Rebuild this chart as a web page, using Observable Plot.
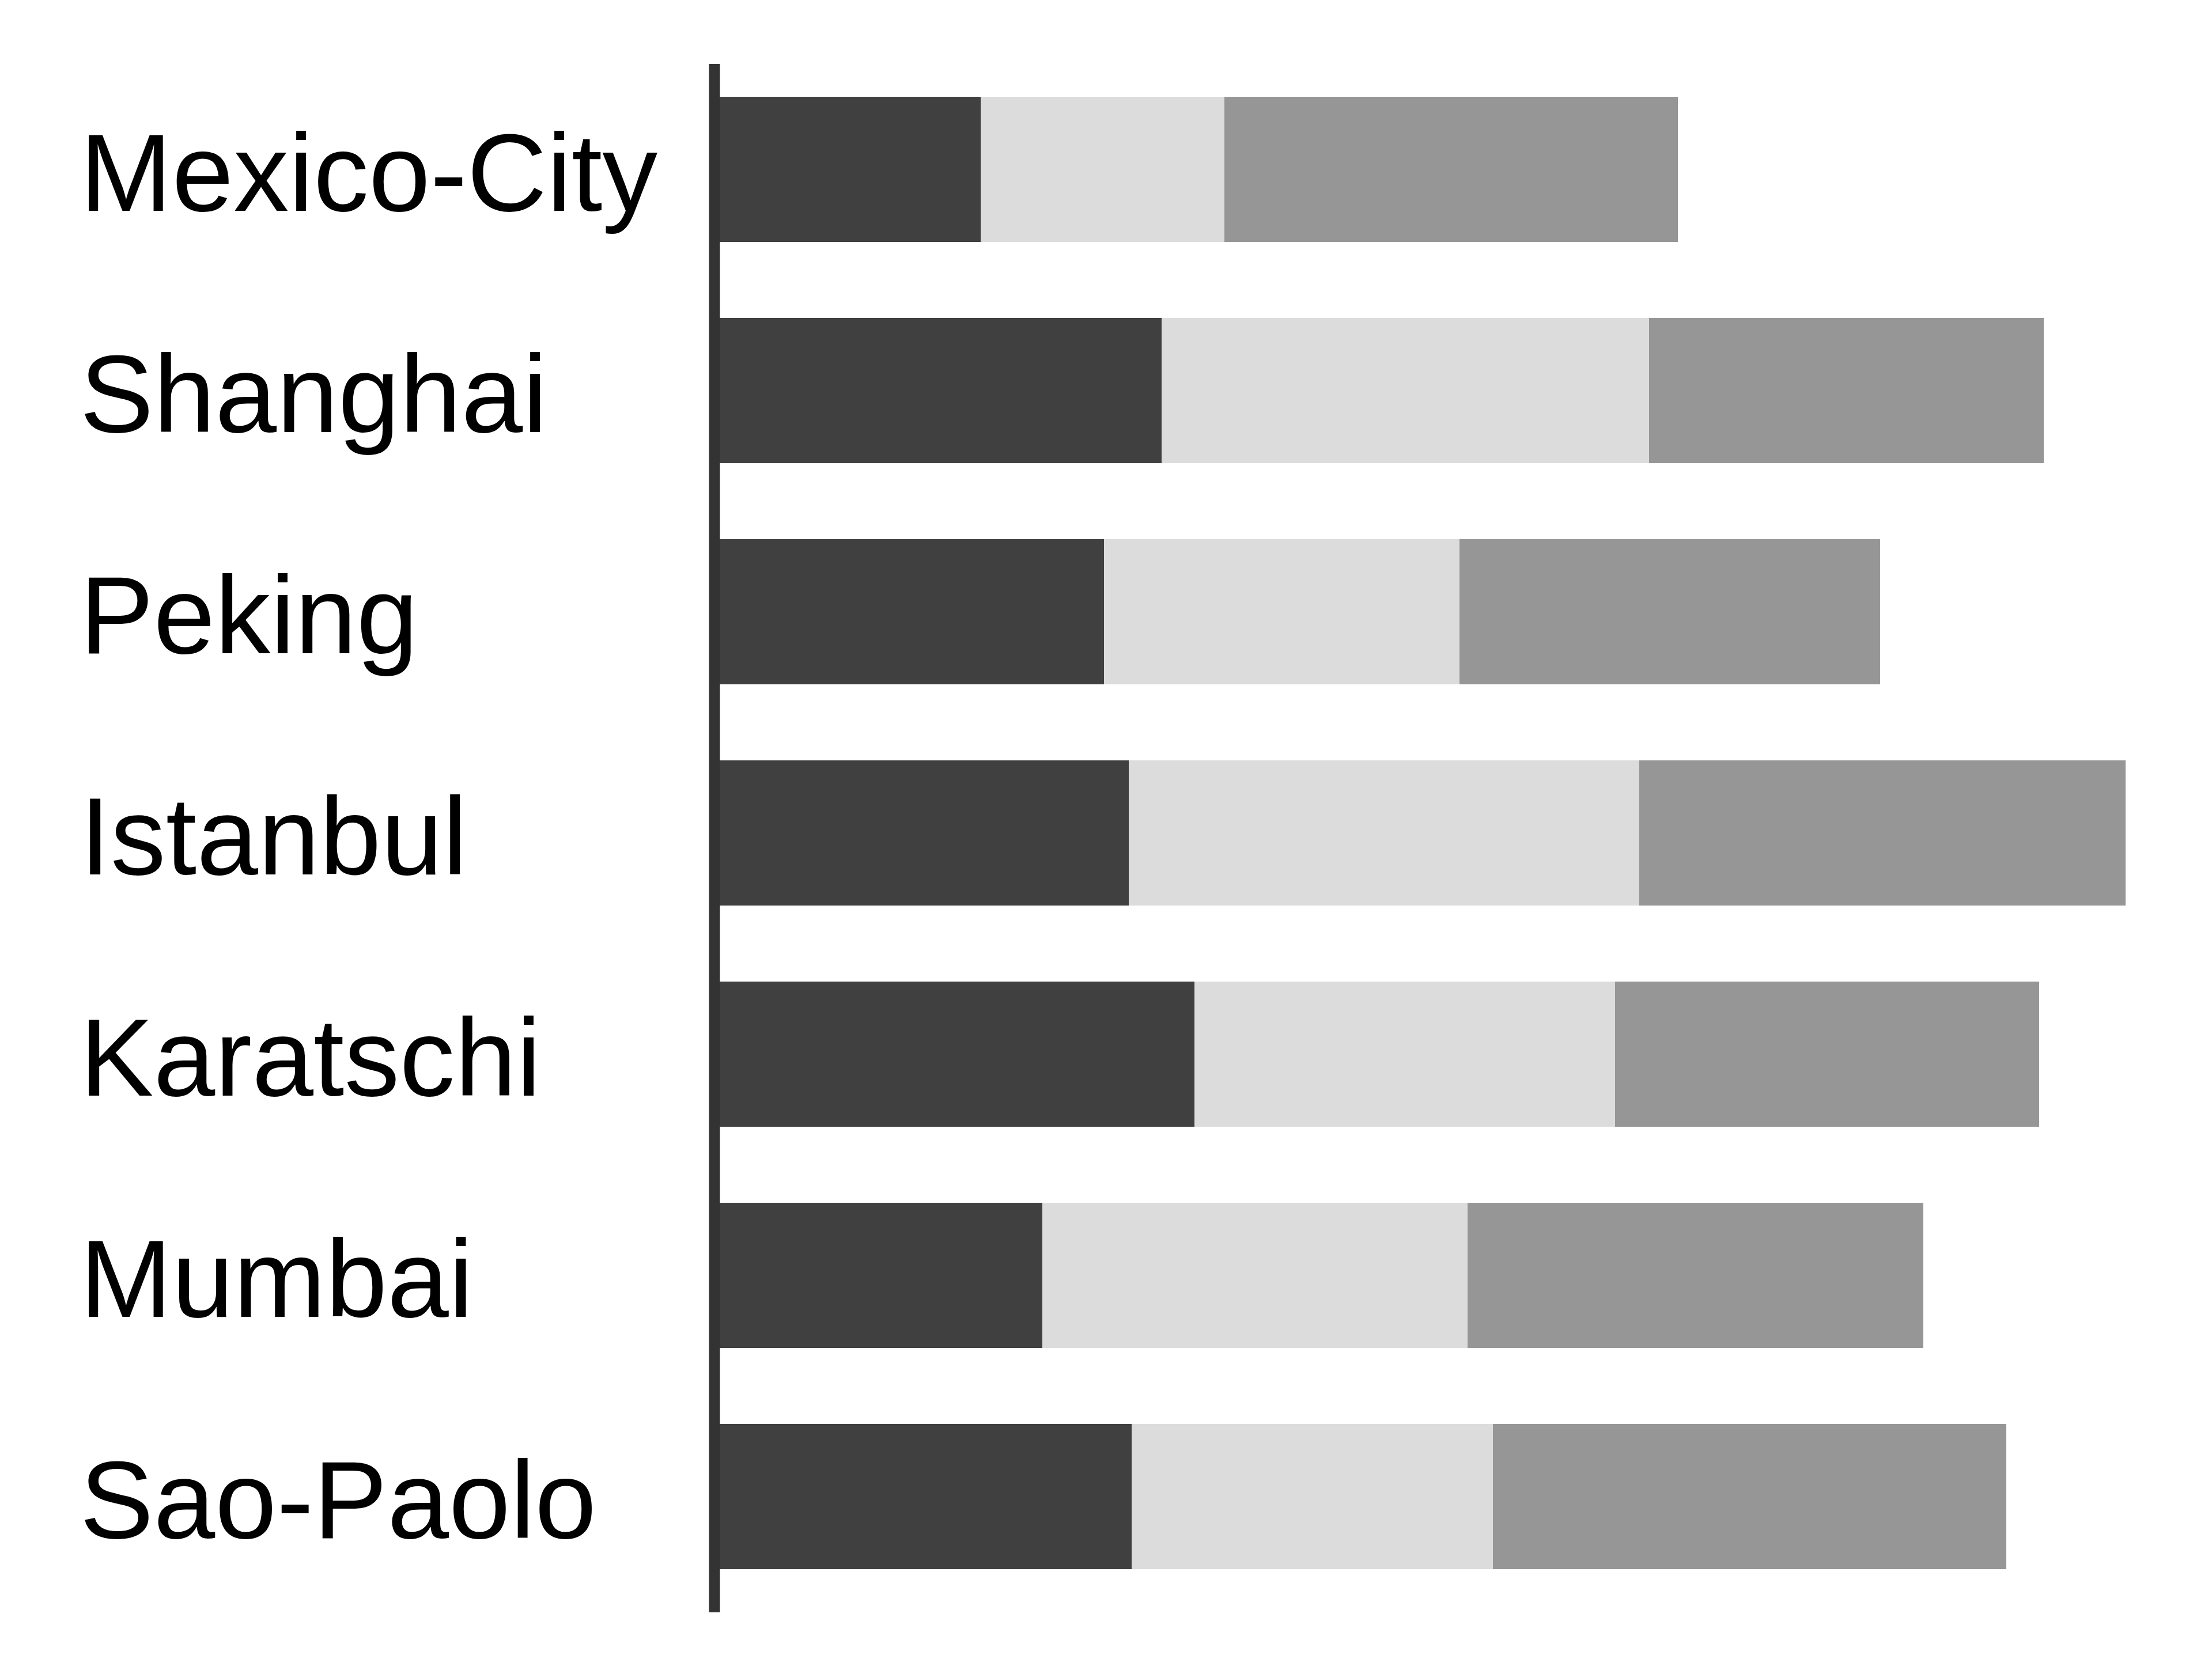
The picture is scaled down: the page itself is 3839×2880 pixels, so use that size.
<!DOCTYPE html>
<html>
<head>
<meta charset="utf-8">
<script src="https://cdn.jsdelivr.net/npm/d3@7"></script>
<script src="https://cdn.jsdelivr.net/npm/@observablehq/plot@0.6"></script>
<style>
  html, body { margin: 0; padding: 0; background: #ffffff; }
  #chart svg { display: block; }
</style>
</head>
<body>
<div id="chart"></div>
<script>
const cities = ["Mexico-City", "Shanghai", "Peking", "Istanbul", "Karatschi", "Mumbai", "Sao-Paolo"];
const seriesNames = ["A", "B", "C"];
const seriesA = [45.3, 76.7, 66.7, 71.0, 82.4, 56.0, 71.5];
const seriesB = [42.3, 84.6, 61.7, 88.6, 73.0, 73.8, 62.7];
const seriesC = [78.7, 68.5, 73.0, 84.4, 73.6, 79.1, 89.1];
const seriesColors = ["#404040", "#dcdcdc", "#969696"];

const seriesValues = [seriesA, seriesB, seriesC];
const data = [];
cities.forEach((c, i) => {
  seriesNames.forEach((s, j) => {
    data.push({city: c, series: s, value: seriesValues[j][i]});
  });
});

const W = 3839, H = 2880;
const marginLeft = 1249, marginTop = 101, marginBottom = 90, marginRight = 90;

const chart = Plot.plot({
  width: W,
  height: H,
  marginLeft, marginTop, marginBottom, marginRight,
  style: {fontFamily: "'Liberation Sans', Arial, sans-serif", background: "#ffffff"},
  x: {domain: [0, 250], axis: null},
  y: {domain: cities, paddingInner: 0.344, paddingOuter: 0.172, label: null},
  color: {domain: seriesNames, range: seriesColors},
  marks: [
    Plot.barX(data, {y: "city", x: "value", fill: "series", inset: 0}),
    Plot.ruleX([0], {stroke: "#333333", strokeWidth: 19, dx: -9.5, insetTop: 10, insetBottom: -9}),
    Plot.axisY({
      tickSize: 0,
      textAnchor: "start",
      dx: 147 - marginLeft,
      dy: 10,
      fontSize: 192,
      fill: "#000000",
      label: null
    })
  ]
});
document.getElementById("chart").appendChild(chart);
</script>
</body>
</html>
